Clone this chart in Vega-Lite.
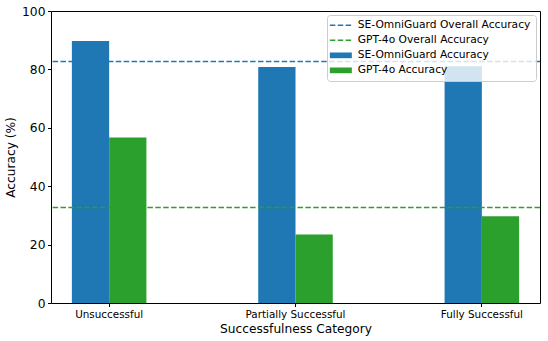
{
  "$schema": "https://vega.github.io/schema/vega-lite/v6.json",
  "width": 489,
  "height": 292,
  "autosize": {"type": "none"},
  "padding": {"left": 51, "top": 11, "right": 8, "bottom": 38},
  "background": "white",
  "config": {
    "font": "DejaVu Sans",
    "view": {"stroke": "#000", "strokeWidth": 1},
    "axis": {
      "grid": false,
      "domainColor": "#000",
      "tickColor": "#000",
      "labelColor": "#000",
      "titleColor": "#000",
      "titleFontWeight": "normal",
      "tickSize": 3.5,
      "labelPadding": 2.5
    }
  },
  "layer": [
    {
      "data": {
        "values": [
          {"category": "Unsuccessful", "series": "SE-OmniGuard Accuracy", "accuracy": 89.7},
          {"category": "Unsuccessful", "series": "GPT-4o Accuracy", "accuracy": 56.7},
          {"category": "Partially Successful", "series": "SE-OmniGuard Accuracy", "accuracy": 80.8},
          {"category": "Partially Successful", "series": "GPT-4o Accuracy", "accuracy": 23.5},
          {"category": "Fully Successful", "series": "SE-OmniGuard Accuracy", "accuracy": 81.1},
          {"category": "Fully Successful", "series": "GPT-4o Accuracy", "accuracy": 29.7}
        ]
      },
      "mark": {"type": "bar"},
      "encoding": {
        "x": {
          "field": "category",
          "type": "nominal",
          "sort": ["Unsuccessful", "Partially Successful", "Fully Successful"],
          "scale": {"paddingInner": 0.6, "paddingOuter": 0.112},
          "axis": {"labelAngle": 0, "title": "Successfulness Category", "labelFontSize": 10.4, "titleFontSize": 12.2, "titlePadding": 3, "domain": false}
        },
        "xOffset": {
          "field": "series",
          "type": "nominal",
          "sort": ["SE-OmniGuard Accuracy", "GPT-4o Accuracy"],
          "scale": {"paddingInner": 0, "paddingOuter": 0}
        },
        "y": {
          "field": "accuracy",
          "type": "quantitative",
          "scale": {"domain": [0, 100], "nice": false},
          "axis": {"values": [0, 20, 40, 60, 80, 100], "title": "Accuracy (%)", "labelFontSize": 12.3, "titleFontSize": 12.2, "titlePadding": 4, "domain": false}
        },
        "color": {
          "field": "series",
          "type": "nominal",
          "scale": {
            "domain": ["SE-OmniGuard Overall Accuracy", "GPT-4o Overall Accuracy", "SE-OmniGuard Accuracy", "GPT-4o Accuracy"],
            "range": ["#1f77b4", "#2ca02c", "#1f77b4", "#2ca02c"]
          },
          "legend": {
            "title": null,
            "orient": "top-right",
            "offset": 4,
            "padding": 5,
            "zindex": 2,
            "labelFontSize": 10.7,
            "labelLimit": 400,
            "labelColor": "#000",
            "labelOffset": 15,
            "rowPadding": 3,
            "symbolSize": 225,
            "fillColor": "rgba(255,255,255,0.8)",
            "strokeColor": "#cccccc",
            "cornerRadius": 3,
            "encode": {
              "symbols": {
                "update": {
                  "shape": {"signal": "test(/Overall/, datum.value) ? 'M-1,0H1.93' : 'M-1,-0.38H1.93V0.38H-1Z'"},
                  "strokeDash": {"signal": "test(/Overall/, datum.value) ? [5.5,2.4] : [1,0]"},
                  "fill": {"signal": "test(/Overall/, datum.value) ? 'transparent' : scale('color', datum.value)"},
                  "stroke": {"signal": "scale('color', datum.value)"},
                  "strokeWidth": {"signal": "test(/Overall/, datum.value) ? 1.5 : 0"},
                  "opacity": {"value": 1}
                }
              }
            }
          }
        }
      }
    },
    {
      "data": {
        "values": [
          {"series": "SE-OmniGuard Overall Accuracy", "accuracy": 82.7},
          {"series": "GPT-4o Overall Accuracy", "accuracy": 32.7}
        ]
      },
      "mark": {"type": "rule", "strokeDash": [5.5, 2.4], "strokeWidth": 1.5},
      "encoding": {
        "y": {"field": "accuracy", "type": "quantitative"},
        "color": {"field": "series", "type": "nominal"}
      }
    }
  ]
}
